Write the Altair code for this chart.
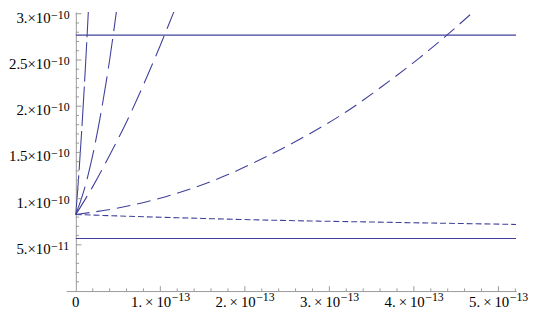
import altair as alt
import pandas as pd

# Units: x in 1e-13, y in 1e-10
c1_x = [0, 0.04, 0.08, 0.12, 0.148]
c1_y = [0.828, 1.32, 1.89, 2.53, 3.02]

c2_x = [0, 0.1, 0.2, 0.3, 0.4, 0.48]
c2_y = [0.828, 1.10, 1.47, 1.94, 2.50, 3.02]

c3_x = [0, 0.2, 0.4, 0.6, 0.8, 1.0, 1.16]
c3_y = [0.828, 1.13, 1.47, 1.83, 2.23, 2.66, 3.02]

c4_x = [0, 0.6, 1.29, 1.80, 2.26, 2.73, 3.20, 3.63, 4.06, 4.39, 4.70]
c4_y = [0.828, 0.917, 1.085, 1.26, 1.457, 1.683, 1.94, 2.218, 2.518, 2.768, 3.018]

c5_x = [0, 1.2, 2.4, 3.56, 5.21]
c5_y = [0.828, 0.793, 0.765, 0.746, 0.721]

h_upper_x = [0, 5.21]
h_upper_y = [2.769, 2.769]
h_lower_x = [0, 5.21]
h_lower_y = [0.568, 0.568]

x_major = [1, 2, 3, 4, 5]
x_minor = [0.2, 0.4, 0.6, 0.8, 1.2, 1.4, 1.6, 1.8, 2.2, 2.4, 2.6, 2.8,
           3.2, 3.4, 3.6, 3.8, 4.2, 4.4, 4.6, 4.8, 5.2]
x_base = ["1.\u2009×\u200910", "2.\u2009×\u200910", "3.\u2009×\u200910",
          "4.\u2009×\u200910", "5.\u2009×\u200910"]
x_exp = ["−13", "−13", "−13", "−13", "−13"]
zero_label = ["0"]

y_major = [0.5, 1.0, 1.5, 2.0, 2.5, 3.0]
y_minor = [0.1, 0.2, 0.3, 0.4, 0.6, 0.7, 0.8, 0.9, 1.1, 1.2, 1.3, 1.4,
           1.6, 1.7, 1.8, 1.9, 2.1, 2.2, 2.3, 2.4, 2.6, 2.7, 2.8, 2.9]
y_base = ["5.×10", "1.×10", "1.5×10", "2.×10", "2.5×10", "3.×10"]
y_exp = ["−11", "−10", "−10", "−10", "−10", "−10"]

series = [
    ("c1", c1_x, c1_y, [40, 5]),
    ("c2", c2_x, c2_y, [30, 8]),
    ("c3", c3_x, c3_y, [22, 8]),
    ("c4", c4_x, c4_y, [14, 7]),
    ("c5", c5_x, c5_y, [6, 3]),
    ("hu", h_upper_x, h_upper_y, None),
    ("hl", h_lower_x, h_lower_y, None),
]

rows = []
for name, xs, ys, _ in series:
    for i, (xv, yv) in enumerate(zip(xs, ys)):
        rows.append({"s": name, "i": i, "x": xv, "y": yv})
df = pd.DataFrame(rows)

COLOR = "#40409c"
AXIS = "#9a9a9a"
FONT = "Liberation Serif"
BASE_SIZE = 15
EXP_SIZE = 12

W = 455.6
H = 282.7
xscale = alt.Scale(domain=[-0.113, 5.21], nice=False, zero=False)
yscale = alt.Scale(domain=[0, 3.02], nice=False, zero=False)

base = alt.Chart(df)

layers = []
first = True
for name, xs, ys, dash in series:
    kw = dict(color=COLOR, strokeWidth=1.1, interpolate="monotone", clip=True)
    if dash:
        kw["strokeDash"] = dash
    if first:
        xenc = alt.X("x:Q", scale=xscale,
                     axis=alt.Axis(values=[0], labels=False, title=None,
                                   ticks=False, grid=False, domainColor=AXIS,
                                   domainWidth=1))
        yenc = alt.Y("y:Q", scale=yscale,
                     axis=alt.Axis(values=[0], labels=False, title=None,
                                   ticks=False, grid=False, domainColor=AXIS,
                                   domainWidth=1, offset=-9.7))
        first = False
    else:
        xenc = alt.X("x:Q", scale=xscale)
        yenc = alt.Y("y:Q", scale=yscale)
    layers.append(
        base.transform_filter(alt.datum.s == name)
        .mark_line(**kw)
        .encode(x=xenc, y=yenc, order="i:Q")
    )

tx_major = pd.DataFrame({"x": x_major})
tx_minor = pd.DataFrame({"x": x_minor})
ty_major = pd.DataFrame({"y": y_major})
ty_minor = pd.DataFrame({"y": y_minor})


def xticks(d, length):
    return alt.Chart(d).mark_rule(color=AXIS, strokeWidth=1, y2Offset=-length).encode(
        x=alt.X("x:Q", scale=xscale), y=alt.datum(0), y2=alt.datum(0))


def yticks(d, length):
    return alt.Chart(d).mark_rule(color=AXIS, strokeWidth=1, x2Offset=length).encode(
        y=alt.Y("y:Q", scale=yscale), x=alt.datum(0), x2=alt.datum(0))


layers += [xticks(tx_major, 5), xticks(tx_minor, 2.7),
           yticks(ty_major, 5.7), yticks(ty_minor, 3.3)]

xl = pd.DataFrame({"x": x_major, "b": x_base, "e": x_exp})
yl = pd.DataFrame({"y": y_major, "b": y_base, "e": y_exp})
zl = pd.DataFrame({"x": [0], "b": zero_label})

layers.append(alt.Chart(xl).mark_text(
    font=FONT, fontSize=BASE_SIZE, color="black", align="right",
    baseline="alphabetic", dx=11, dy=16.5).encode(
    x=alt.X("x:Q", scale=xscale), y=alt.datum(0), text="b:N"))
layers.append(alt.Chart(xl).mark_text(
    font=FONT, fontSize=EXP_SIZE, color="black", align="left",
    baseline="alphabetic", dx=11.5, dy=10.5).encode(
    x=alt.X("x:Q", scale=xscale), y=alt.datum(0), text="e:N"))
layers.append(alt.Chart(zl).mark_text(
    font=FONT, fontSize=BASE_SIZE, color="black", align="center",
    baseline="alphabetic", dy=16.5).encode(
    x=alt.X("x:Q", scale=xscale), y=alt.datum(0), text="b:N"))
layers.append(alt.Chart(yl).mark_text(
    font=FONT, fontSize=BASE_SIZE, color="black", align="right",
    baseline="alphabetic", dx=-25.5, dy=9).encode(
    y=alt.Y("y:Q", scale=yscale), x=alt.datum(0), text="b:N"))
layers.append(alt.Chart(yl).mark_text(
    font=FONT, fontSize=EXP_SIZE, color="black", align="left",
    baseline="alphabetic", dx=-25, dy=5).encode(
    y=alt.Y("y:Q", scale=yscale), x=alt.datum(0), text="e:N"))

chart = alt.layer(*layers).properties(
    width=W, height=H,
    autosize=alt.AutoSizeParams(type="none"),
    padding={"left": 59, "top": 2, "right": 12, "bottom": 25},
).configure_view(stroke=None)

chart.save("out.html", embed_options={"renderer": "svg", "actions": False})
